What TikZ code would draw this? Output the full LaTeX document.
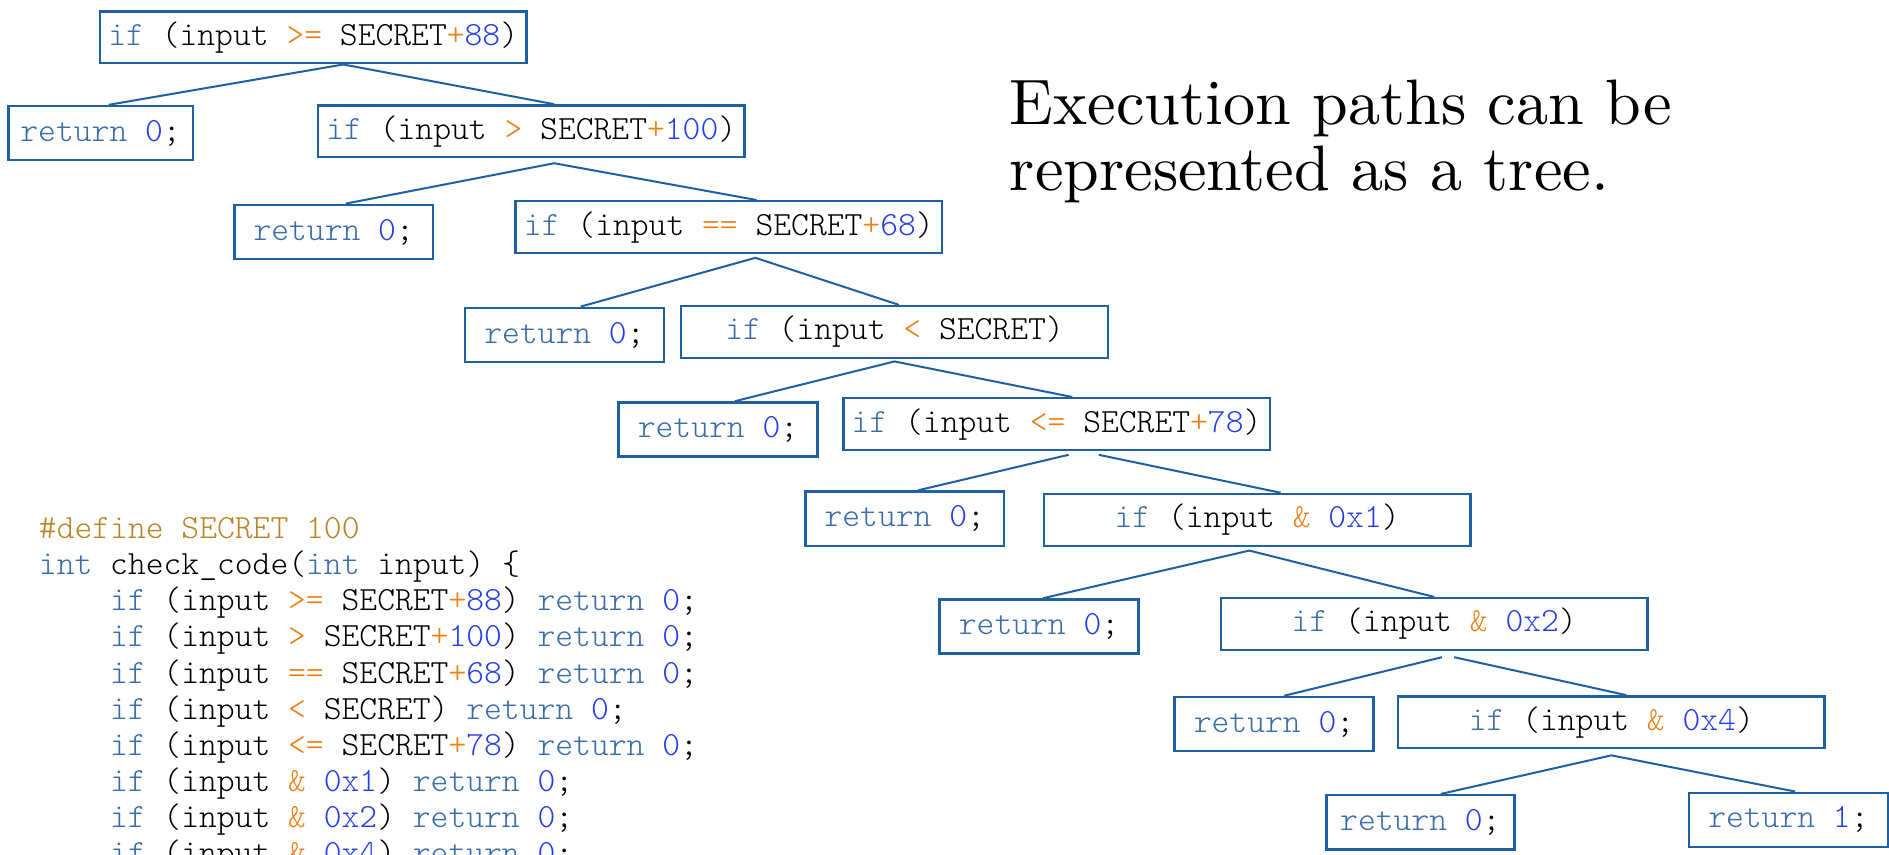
\documentclass[tikz,border=0pt]{standalone}
\usepackage{fontspec}
\newfontfamily\codefont{lmmonolt10-regular.otf}
\newfontfamily\titlefont{lmroman10-regular.otf}
\usepackage{xcolor}
\definecolor{boxblue}{RGB}{30,96,162}
\definecolor{kwblue}{RGB}{58,108,170}
\definecolor{litblue}{RGB}{36,62,228}
\definecolor{opcol}{RGB}{234,128,24}
\definecolor{defcol}{RGB}{184,132,40}
\newcommand{\kwd}[1]{\textcolor{kwblue}{#1}}
\newcommand{\opr}[1]{\textcolor{opcol}{#1}}
\newcommand{\lit}[1]{\textcolor{litblue}{#1}}
\tikzset{
	codenode/.style = {align=center, inner sep=0pt, text centered, font=\fontsize{16.9}{18}\selectfont\codefont},
	ifnode/.style = {codenode, draw=boxblue, line width=1.2pt, minimum width=212.4pt, minimum height=25.8pt},
	retnode/.style = {codenode, draw=boxblue, line width=1.2pt, minimum width=99pt, minimum height=27pt},
	codeline/.style = {codenode, anchor=base west},
	title/.style = {inner sep=0pt, anchor=base west, font=\titlefont\fontsize{32}{34}\selectfont},
	branch/.style = {draw=boxblue, line width=1pt}
}

\begin{document}
\begin{tikzpicture}[x=0.6pt, y=-0.6pt]
\useasboundingbox (0,0) rectangle (1568,709);
\clip (0,0) rectangle (1568,709);
\fill[white] (0,0) rectangle (1568,709);

% the tree, one level per check
\node [ifnode] (root) at (260,31) {\kwd{if} (input \opr{>=} SECRET\opr{+}\lit{88})};
\node [retnode, minimum width=91.8pt] (r1) at (83.5,110.5) {\kwd{return} \lit{0};};
\node [ifnode] (c1) at (441,109) {\kwd{if} (input \opr{>} SECRET\opr{+}\lit{100})};
\node [retnode] (r2) at (277,192.5) {\kwd{return} \lit{0};};
\node [ifnode] (c2) at (605,188.5) {\kwd{if} (input \opr{==} SECRET\opr{+}\lit{68})};
\node [retnode] (r3) at (468.5,278) {\kwd{return} \lit{0};};
\node [ifnode] (c3) at (742.5,275.5) {\kwd{if} (input \opr{<} SECRET)};
\node [retnode] (r4) at (596,356.5) {\kwd{return} \lit{0};};
\node [ifnode] (c4) at (877,352) {\kwd{if} (input \opr{<=} SECRET\opr{+}\lit{78})};
\node [retnode] (r5) at (751,430.5) {\kwd{return} \lit{0};};
\node [ifnode] (c5) at (1043.5,431.5) {\kwd{if} (input \opr{\&} \lit{0x1})};
\node [retnode] (r6) at (862.5,520) {\kwd{return} \lit{0};};
\node [ifnode] (c6) at (1190.5,518) {\kwd{if} (input \opr{\&} \lit{0x2})};
\node [retnode] (r7) at (1057.5,601) {\kwd{return} \lit{0};};
\node [ifnode] (c7) at (1337.5,599.5) {\kwd{if} (input \opr{\&} \lit{0x4})};
\node [retnode, minimum width=93.6pt] (r8) at (1179,682.5) {\kwd{return} \lit{0};};
\node [retnode] (r9) at (1484.5,680.5) {\kwd{return} \lit{1};};

% branches
\draw [branch] ([xshift=4pt]r1.north) -- ([xshift=15pt]root.south) -- ([xshift=11.4pt]c1.north);
\draw [branch] ([xshift=6pt]r2.north) -- ([xshift=11.4pt, yshift=-2.4pt]c1.south) -- ([xshift=13.8pt]c2.north);
\draw [branch] ([xshift=8.1pt]r3.north) -- ([xshift=13.2pt, yshift=-1.8pt]c2.south) -- ([xshift=2.1pt]c3.north);
\draw [branch] ([xshift=8.4pt]r4.north) -- ([yshift=-1.2pt]c3.south) -- ([xshift=7.8pt]c4.north);
\draw [branch] ([xshift=6.6pt]r5.north) -- ([xshift=6pt, yshift=-1.8pt]c4.south);
\draw [branch] ([xshift=21pt, yshift=-1.8pt]c4.south) -- ([xshift=11.7pt]c5.north);
\draw [branch] ([xshift=2.1pt]r6.north) -- ([xshift=-3.9pt, yshift=-1.8pt]c5.south) -- (c6.north);
\draw [branch] ([xshift=5.1pt]r7.north) -- ([xshift=3.9pt, yshift=-3pt]c6.south);
\draw [branch] ([xshift=9.9pt, yshift=-3pt]c6.south) -- ([xshift=7.5pt]c7.north);
\draw [branch] ([xshift=10.2pt]r8.north) -- ([yshift=-3pt]c7.south) -- ([xshift=3.3pt]r9.north);

\node [title] (title1) at (838,103) {Execution paths can be};
\node [title] (title2) at (838,158) {represented as a tree.};

% source listing
\node [codeline] (l0) at (32,447) {\textcolor{defcol}{\#define SECRET 100}};
\node [codeline] (l1) at (32,477) {\kwd{int} check\_code(\kwd{int} input) \{};
\node [codeline] (l2) at (91,507) {\kwd{if} (input \opr{>=} SECRET\opr{+}\lit{88}) \kwd{return} \lit{0};};
\node [codeline] (l3) at (91,537) {\kwd{if} (input \opr{>} SECRET\opr{+}\lit{100}) \kwd{return} \lit{0};};
\node [codeline] (l4) at (91,567) {\kwd{if} (input \opr{==} SECRET\opr{+}\lit{68}) \kwd{return} \lit{0};};
\node [codeline] (l5) at (91,597) {\kwd{if} (input \opr{<} SECRET) \kwd{return} \lit{0};};
\node [codeline] (l6) at (91,627) {\kwd{if} (input \opr{<=} SECRET\opr{+}\lit{78}) \kwd{return} \lit{0};};
\node [codeline] (l7) at (91,657) {\kwd{if} (input \opr{\&} \lit{0x1}) \kwd{return} \lit{0};};
\node [codeline] (l8) at (91,687) {\kwd{if} (input \opr{\&} \lit{0x2}) \kwd{return} \lit{0};};
\node [codeline] (l9) at (91,717) {\kwd{if} (input \opr{\&} \lit{0x4}) \kwd{return} \lit{0};};
\end{tikzpicture}
\end{document}
